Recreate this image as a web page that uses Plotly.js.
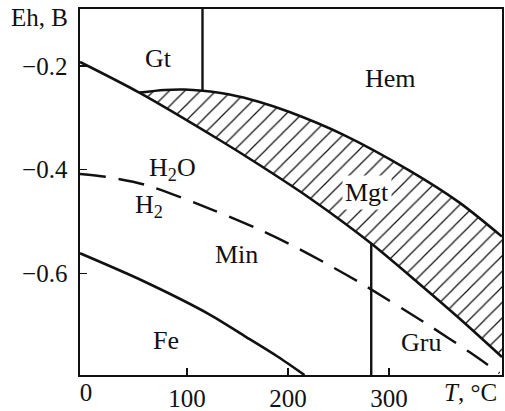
<!DOCTYPE html>
<html>
<head>
<meta charset="utf-8">
<script src="https://cdn.plot.ly/plotly-3.0.1.min.js"></script>
<style>html,body{margin:0;padding:0;background:#fff;}#chart{width:505px;height:411px;}</style>
</head>
<body>
<div id="chart"></div>
<script>
// Temperature T (°C) and Eh (V)
const curveA_T  = [-6, 52.7, 132.2, 171.8, 221.3, 282.4, 330.2, 369.8, 411.9];
const curveA_Eh = [-0.1923, -0.2515, -0.3429, -0.3911, -0.4548, -0.5427, -0.6208, -0.6875, -0.7618];

const curveB_T  = [52.7, 77.4, 97.5, 115.3, 142.1, 171.8, 201.5, 254.0, 320.3, 369.8, 411.9];
const curveB_Eh = [-0.2515, -0.2463, -0.2454, -0.2477, -0.2550, -0.2695, -0.2888, -0.3319, -0.4019, -0.4637, -0.5293];

const waterT  = [-6, 19.3, 57.6, 125.2, 168.5, 204.5, 237.8, 273.8, 341.8, 379.7, 409.4];
const waterEh = [-0.4085, -0.4139, -0.4288, -0.4776, -0.5131, -0.5467, -0.5813, -0.6212, -0.7035, -0.7523, -0.7929];

const feT  = [-6, 57.6, 123.3, 158.6, 189.6, 216.3];
const feEh = [-0.5616, -0.616, -0.6807, -0.7232, -0.7608, -0.7965];

const gtHemT = [115.3, 115.3];
const gtHemEh = [-0.2477, -0.09];
const minGruT = [282.4, 282.4];
const minGruEh = [-0.5427, -0.7965];

const xRange = [-6, 411.9];
const yRange = [-0.7965, -0.09];

const xTickVals = [100, 200, 300];
const xTickText = ['100', '200', '300'];
const yTickVals = [-0.2, -0.4, -0.6];
const yTickText = ['\u22120.2', '\u22120.4', '\u22120.6'];

const regionLabels = ['Gt', 'Hem', 'H<sub>2</sub>O', 'H<sub>2</sub>', 'Mgt', 'Min', 'Fe', 'Gru'];
const regionT  = [71.8, 301.5, 85.6, 62.0, 278.7, 149.0, 78.7, 331.9];
const regionEh = [-0.1855, -0.2232, -0.399, -0.4706, -0.445, -0.563, -0.729, -0.7338];

// hatched segment of curve A (from the Mgt start point)
const segA_T = curveA_T.slice(1);
const segA_Eh = curveA_Eh.slice(1);

const FONT = 'Liberation Serif, Times New Roman, serif';
const ink = '#111';

const traces = [
  {x: segA_T, y: segA_Eh, mode: 'lines', line: {width: 0, shape: 'spline', smoothing: 0.8, color: ink}, hoverinfo: 'skip', showlegend: false},
  {x: curveB_T, y: curveB_Eh, mode: 'lines', line: {width: 0, shape: 'spline', smoothing: 0.8, color: ink}, fill: 'tonexty', fillcolor: 'rgba(0,0,0,0)',
   fillpattern: {shape: '/', size: 11, solidity: 0.11, fgcolor: ink, bgcolor: 'rgba(0,0,0,0)'}, hoverinfo: 'skip', showlegend: false},
  {x: curveA_T, y: curveA_Eh, mode: 'lines', line: {width: 2.6, shape: 'spline', smoothing: 0.8, color: ink}, showlegend: false},
  {x: curveB_T, y: curveB_Eh, mode: 'lines', line: {width: 2.6, shape: 'spline', smoothing: 0.8, color: ink}, showlegend: false},
  {x: waterT, y: waterEh, mode: 'lines', line: {width: 2.4, shape: 'spline', smoothing: 0.8, color: ink, dash: '26px,13px'}, showlegend: false},
  {x: feT, y: feEh, mode: 'lines', line: {width: 2.6, shape: 'spline', smoothing: 0.8, color: ink}, showlegend: false},
  {x: gtHemT, y: gtHemEh, mode: 'lines', line: {width: 2.4, color: ink}, showlegend: false},
  {x: minGruT, y: minGruEh, mode: 'lines', line: {width: 2.4, color: ink}, showlegend: false},
  {x: [0], y: [-0.5], xaxis: 'x2', mode: 'markers', marker: {opacity: 0}, hoverinfo: 'skip', showlegend: false}
];

const annotations = regionLabels.map((t, i) => ({
  x: regionT[i], y: regionEh[i], xref: 'x', yref: 'y', text: t, showarrow: false,
  xanchor: 'center', yanchor: 'middle', font: {family: FONT, size: 26, color: ink},
  bgcolor: t === 'Mgt' ? '#ffffff' : 'rgba(0,0,0,0)', borderpad: t === 'Mgt' ? 2 : 0
}));
annotations.push({xref: 'paper', yref: 'paper', x: 0, y: 0.977, xanchor: 'right', yanchor: 'middle', xshift: -10,
  text: 'Eh, B', showarrow: false, font: {family: FONT, size: 25, color: ink}});
annotations.push({xref: 'paper', yref: 'paper', x: 0.926, y: -0.047, xanchor: 'center', yanchor: 'middle',
  text: '<i>T</i>, °C', showarrow: false, font: {family: FONT, size: 25, color: ink}});

const axisCommon = {showgrid: false, zeroline: false, showline: true, linewidth: 1.6, linecolor: ink, mirror: true,
  ticks: 'inside', ticklen: 7, tickwidth: 1.3, tickcolor: ink, tickfont: {family: FONT, size: 25, color: ink}};

const layout = {
  width: 505, height: 411,
  margin: {l: 80, r: 3, t: 9, b: 36},
  paper_bgcolor: '#fff', plot_bgcolor: '#fff',
  showlegend: false,
  xaxis: Object.assign({}, axisCommon, {range: xRange, tickmode: 'array', tickvals: xTickVals, ticktext: xTickText}),
  xaxis2: {overlaying: 'x', anchor: 'y', side: 'bottom', range: xRange, tickmode: 'array', tickvals: [0], ticktext: ['0'],
    showgrid: false, zeroline: false, showline: false, ticks: '', tickfont: {family: FONT, size: 25, color: ink}},
  yaxis: Object.assign({}, axisCommon, {range: yRange, tickmode: 'array', tickvals: yTickVals, ticktext: yTickText, ticklabelstandoff: 6}),
  annotations: annotations
};

Plotly.newPlot('chart', traces, layout, {staticPlot: true, displayModeBar: false});
</script>
</body>
</html>
